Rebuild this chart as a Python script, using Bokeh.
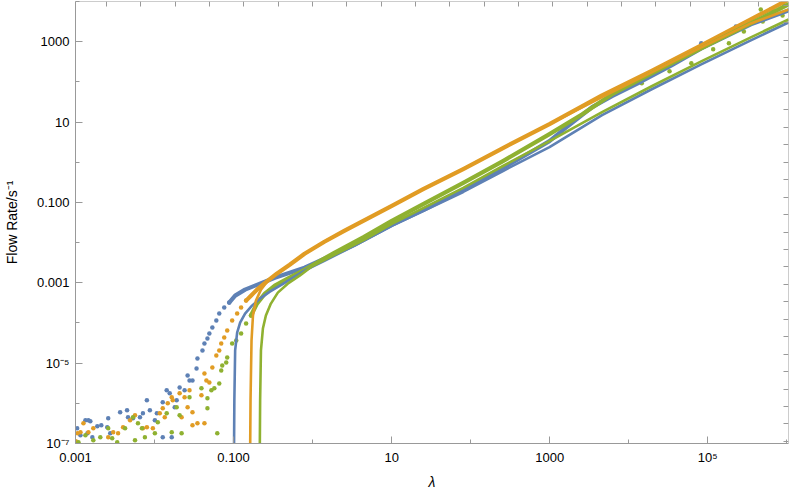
import json
import math
from bokeh.plotting import figure
from bokeh.models import LogAxis, FixedTicker, CustomJSTickFormatter, Range1d, ColumnDataSource
from bokeh.embed import file_html
from bokeh.resources import INLINE

# ---------------- data (lambda, flow rate) ----------------
blue_scatter = [
    (1.05e-3, 2.4e-7), (1.335e-3, 3.8e-7), (1.456e-3, 3.8e-7), (1.54e-3, 3.57e-7), (1.155e-3, 1.6e-7),
    (1.415e-3, 1.8e-7), (1.633e-3, 1.43e-7), (1.888e-3, 2.69e-7), (2.12e-3, 2.85e-7), (2.594e-3, 4.25e-7),
    (2.52e-3, 2.54e-7), (2.75e-3, 1.8e-7), (3.67e-3, 5.98e-7), (4.49e-3, 6.7e-7), (4.62e-3, 4.5e-7),
    (5.34e-3, 4.25e-7), (6.54e-3, 4.5e-7), (7.13e-3, 5.65e-7), (8.0e-3, 1.19e-6), (8.73e-3, 6.7e-7),
    (1.07e-2, 5.65e-7), (1.27e-2, 1.06e-6), (1.425e-2, 2.1e-6), (1.555e-2, 1.77e-6), (1.80e-2, 7.96e-7),
    (1.905e-2, 1.19e-6), (2.077e-2, 2.49e-6), (2.40e-2, 2.1e-6), (2.62e-2, 4.95e-6), (2.77e-2, 3.72e-6),
    (3.02e-2, 3.72e-6), (3.40e-2, 7.38e-6), (3.49e-2, 1.31e-5), (4.04e-2, 2.07e-5), (4.28e-2, 3.08e-5),
    (4.67e-2, 4.1e-5), (4.94e-2, 5.46e-5), (5.39e-2, 7.7e-5), (6.05e-2, 1.15e-4), (6.59e-2, 1.71e-4),
    (7.62e-2, 2.41e-4), (8.81e-2, 3.21e-4), (1.27e-2, 1.43e-7), (1.65e-2, 1.43e-7), (1.01e-2, 3.8e-7),
    (8.26e4, 908), (2.27e5, 2399), (6.25e5, 6324), (9.35e5, 7960),
]
orange_scatter = [
    (1.06e-3, 1.8e-7), (1.155e-3, 1.9e-7), (1.26e-3, 3.19e-7), (1.456e-3, 1.9e-7), (1.68e-3, 2.4e-7),
    (2.594e-3, 1.43e-7), (3.0e-3, 1.9e-7), (3.46e-3, 1.8e-7), (4.0e-3, 2.54e-7), (4.9e-3, 3.8e-7),
    (5.66e-3, 5.04e-7), (7.13e-3, 2.4e-7), (8.0e-3, 2.54e-7), (9.52e-3, 2.4e-7), (1.165e-2, 5.65e-7),
    (1.27e-2, 7.52e-7), (1.346e-2, 4.5e-7), (1.47e-2, 1.0e-6), (1.65e-2, 1.41e-6), (1.70e-2, 1.19e-6),
    (2.077e-2, 1.77e-6), (2.2e-2, 4.5e-7), (2.40e-2, 1.41e-6), (2.62e-2, 7.96e-7), (2.77e-2, 2.1e-6),
    (3.02e-2, 2.85e-7), (3.49e-2, 3.19e-7), (3.92e-2, 1.58e-6), (4.28e-2, 5.55e-6), (4.53e-2, 3.72e-6),
    (4.94e-2, 3.32e-6), (5.39e-2, 7.82e-6), (6.05e-2, 1.55e-5), (6.59e-2, 2.07e-5), (6.98e-2, 3.08e-5),
    (7.62e-2, 4.35e-5), (8.31e-2, 6.47e-5), (9.6e-2, 1.15e-4), (0.111, 1.71e-4), (0.1245, 2.41e-4),
    (0.144, 3.6e-4), (3.02e-2, 5.98e-7), (4.28e-2, 3.19e-7), (1.01e-3, 1.14e-7),
]
green_scatter = [
    (1.09e-3, 1.08e-7), (1.335e-3, 1.6e-7), (1.68e-3, 1.21e-7), (2.06e-3, 1.43e-7), (2.594e-3, 2.4e-7),
    (2.91e-3, 1.35e-7), (3.37e-3, 1.08e-7), (4.24e-3, 2.4e-7), (5.34e-3, 4.5e-7), (5.66e-3, 1.21e-7),
    (6.17e-3, 3.19e-7), (6.93e-3, 2.4e-7), (7.55e-3, 1.43e-7), (1.01e-2, 1.8e-7), (1.10e-2, 3.37e-7),
    (1.425e-2, 5.65e-7), (1.65e-2, 1.9e-7), (1.905e-2, 7.96e-7), (2.077e-2, 5.04e-7), (2.2e-2, 1.8e-7),
    (2.77e-2, 1.41e-6), (3.92e-2, 2.36e-6), (4.67e-2, 7.52e-7), (4.67e-2, 1.33e-6), (5.24e-2, 2.1e-6),
    (5.71e-2, 2.36e-6), (6.22e-2, 1.8e-7), (6.59e-2, 3.13e-6), (6.98e-2, 6.59e-6), (7.19e-2, 8.77e-6),
    (8.07e-2, 1.04e-5), (8.31e-2, 1.38e-5), (9.6e-2, 3.08e-5), (0.108, 3.66e-5), (0.1245, 5.46e-5),
    (0.144, 9.66e-5), (0.166, 1.53e-4),
    (1.46e4, 92.3), (3.28e4, 183), (6.19e4, 290), (1.17e5, 644), (1.85e5, 908), (2.86e5, 1803),
    (4.96e5, 3190), (6.81e5, 5648), (8.83e5, 4497), (4.68e5, 6324),
]
# dense parts of the simulated series (points so close they form a band)
blue_dense = [
    (8.81e-2, 3.21e-4), (0.1047, 4.78e-4), (0.1398, 6.74e-4), (0.1866, 8.47e-4), (0.249, 1.064e-3),
    (0.3327, 1.337e-3), (0.513, 1.78e-3), (0.791, 2.37e-3), (1.41, 3.96e-3), (3.36, 8.81e-3),
    (10.06, 0.0277), (25.4, 0.0652), (80.5, 0.204), (256, 0.718), (608, 1.90), (993, 3.36),
    (1578, 7.06), (3444, 23.4), (6138, 43.9), (1.46e4, 103.5), (3.47e4, 258), (8.26e4, 680),
    (3.5e5, 2700), (1.05e6, 6000),
]
orange_dense = [
    (0.144, 3.6e-4), (0.166, 4.78e-4), (0.1977, 6.74e-4), (0.235, 8.97e-4), (0.2716, 1.127e-3),
    (0.352, 1.68e-3), (0.513, 2.81e-3), (0.791, 5.27e-3), (1.41, 0.0105), (2.51, 0.0196), (10.06, 0.0819),
    (25.4, 0.216), (80.5, 0.678), (256, 2.25), (993, 8.87), (4594, 46.4), (1.95e4, 188),
    (8.26e4, 809), (3.5e5, 3573), (1.05e6, 1.12e4),
]
green_dense = [
    (0.166, 1.53e-4), (0.1977, 3.03e-4), (0.249, 5.36e-4), (0.3327, 8.47e-4), (0.484, 1.265e-3),
    (0.791, 2.11e-3), (1.88, 5.58e-3), (4.48, 0.0139), (10.06, 0.0348), (25.4, 0.0918),
    (80.5, 0.305), (256, 1.07), (993, 5.01), (2582, 15.7), (6138, 49.2), (1.95e4, 163),
    (8.26e4, 682), (3.5e5, 2845), (1.05e6, 8430),
]
# theory curves
blue_theory = [
    (0.1009, 2.2e-8), (0.1023, 1.19e-6), (0.1047, 2.07e-5), (0.111, 5.78e-5), (0.121, 1.02e-4),
    (0.1398, 1.71e-4), (0.171, 2.7e-4), (0.216, 4.03e-4), (0.288, 6.01e-4), (0.407, 8.97e-4),
    (0.593, 1.42e-3), (0.791, 2.0e-3), (1.41, 3.53e-3), (3.36, 8.33e-3), (10.06, 0.0261),
    (25.4, 0.0615), (80.5, 0.182), (256, 0.605), (993, 2.38), (4594, 14.8), (1.95e4, 65.5),
    (8.26e4, 273), (3.5e5, 1077), (1.05e6, 3013),
]
orange_theory = [
    (0.1614, 2.2e-8), (0.1639, 1.19e-6), (0.1687, 3.66e-5), (0.176, 1.53e-4), (0.192, 3.6e-4),
    (0.222, 6.74e-4), (0.2716, 1.127e-3), (0.352, 1.68e-3), (0.513, 2.81e-3), (0.791, 5.27e-3),
    (1.41, 0.0105), (2.51, 0.0196), (10.06, 0.0819), (25.4, 0.216), (80.5, 0.678), (256, 2.25), (993, 8.87),
    (4594, 41.5), (1.95e4, 173), (8.26e4, 722), (3.5e5, 2845), (1.05e6, 6324),
]
green_theory = [
    (0.2138, 2.2e-8), (0.2168, 1.19e-6), (0.222, 2.07e-5), (0.235, 7.26e-5), (0.2564, 1.53e-4),
    (0.2965, 3.03e-4), (0.363, 5.68e-4), (0.484, 9.5e-4), (0.685, 1.5e-3), (0.968, 2.51e-3),
    (1.88, 4.98e-3), (4.48, 0.01173), (10.06, 0.0292), (25.4, 0.0731), (80.5, 0.229),
    (256, 0.805), (993, 3.36), (4594, 17.6), (1.95e4, 77.8), (8.26e4, 324), (3.5e5, 1279), (1.05e6, 3573),
]

# axes ticks / labels
X_MIN, X_MAX = 1e-3, 1.05e6
Y_MIN, Y_MAX = 1e-7, 1e4
x_major = [1e-3, 1e-1, 1e1, 1e3, 1e5]
x_minor = [1e-2, 1e0, 1e2, 1e4, 1e6]
y_major = [1e-7, 1e-5, 1e-3, 1e-1, 1e1, 1e3]
y_minor = [1e-6, 1e-4, 1e-2, 1e0, 1e2, 1e4]
tick_labels = {-7: "10⁻⁷", -5: "10⁻⁵", -3: "0.001", -1: "0.100", 1: "10", 3: "1000", 5: "10⁵"}
top_ln_exponents = list(range(-6, 14))
right_ln_exponents = list(range(-16, 10))

BLUE = "#5E81B5"
ORANGE = "#E19C24"
GREEN = "#8FB131"
FRAME = "#999999"
FONT = "Liberation Sans"

p = figure(width=789, height=493, x_axis_type="log", y_axis_type="log",
           x_range=Range1d(X_MIN, X_MAX), y_range=Range1d(Y_MIN, Y_MAX),
           output_backend="svg", toolbar_location=None,
           min_border_left=69, min_border_right=1, min_border_top=1, min_border_bottom=50)
p.xgrid.visible = False
p.ygrid.visible = False
p.outline_line_color = None
p.background_fill_color = "white"
p.border_fill_color = "white"

def src(pairs):
    return ColumnDataSource(dict(x=[a for a, b in pairs], y=[b for a, b in pairs]))

for pairs, col in ((blue_scatter, BLUE), (orange_scatter, ORANGE), (green_scatter, GREEN)):
    p.scatter("x", "y", source=src(pairs), size=4.5, color=col, line_width=0)
for pairs, col in ((blue_dense, BLUE), (orange_dense, ORANGE), (green_dense, GREEN)):
    p.line("x", "y", source=src(pairs), line_width=4.2, color=col, line_join="round", line_cap="round")
for pairs, col in ((blue_theory, BLUE), (orange_theory, ORANGE), (green_theory, GREEN)):
    p.line("x", "y", source=src(pairs), line_width=2.6, color=col, line_join="round")

lab_js = json.dumps({str(k): v for k, v in tick_labels.items()}, ensure_ascii=False)
fmt = CustomJSTickFormatter(code=f"""
const m = {lab_js};
const e = Math.round(Math.log10(tick));
const s = m[String(e)];
return s === undefined ? "" : s;
""")
blank = CustomJSTickFormatter(code='return "";')

def style_axis(ax, major_in, minor_in):
    ax.axis_line_color = FRAME
    ax.major_tick_line_color = FRAME
    ax.minor_tick_line_color = FRAME
    ax.major_tick_in = major_in
    ax.major_tick_out = 0
    ax.minor_tick_in = minor_in
    ax.minor_tick_out = 0
    ax.major_label_text_font = FONT
    ax.major_label_text_font_size = "13px"
    ax.major_label_text_color = "#000000"
    ax.axis_label_text_font = FONT
    ax.axis_label_text_font_size = "14px"
    ax.axis_label_text_color = "#000000"

xa = p.xaxis[0]
xa.ticker = FixedTicker(ticks=x_major, minor_ticks=x_minor)
xa.formatter = fmt
style_axis(xa, 7, 4)
xa.major_label_standoff = 6
xa.axis_label = "λ"
xa.axis_label_text_font_style = "italic"
xa.axis_label_standoff = 6

ya = p.yaxis[0]
ya.ticker = FixedTicker(ticks=y_major, minor_ticks=y_minor)
ya.formatter = fmt
style_axis(ya, 7, 4)
ya.major_label_standoff = 6
ya.axis_label = "Flow Rate/s⁻¹"
ya.axis_label_text_font_style = "normal"
ya.axis_label_standoff = 14

for ax_exps, place, loc in ((top_ln_exponents, "above", Y_MAX), (right_ln_exponents, "right", X_MAX)):
    ax = LogAxis(ticker=FixedTicker(ticks=[math.e ** n for n in ax_exps], minor_ticks=[]),
                 formatter=blank, fixed_location=loc)
    style_axis(ax, 5, 0)
    ax.major_label_text_font_size = "0px"
    ax.major_label_standoff = 0
    ax.axis_label_standoff = 0
    p.add_layout(ax, place)

open("out.html", "w").write(file_html(p, INLINE))
